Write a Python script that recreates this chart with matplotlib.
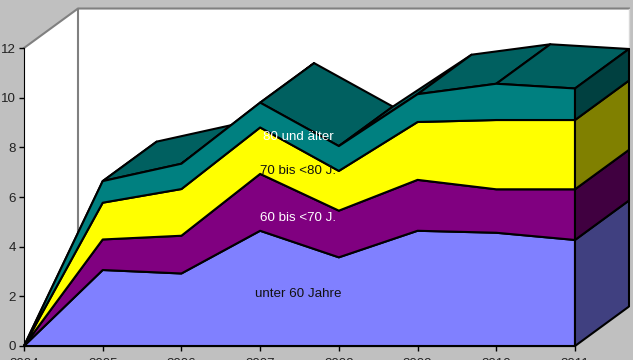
import numpy as np
import matplotlib
matplotlib.use("Agg")
import matplotlib.pyplot as plt
from matplotlib.patches import Polygon

years = [2004, 2005, 2006, 2007, 2008, 2009, 2010, 2011]
unter60 = [0, 3.06, 2.92, 4.64, 3.57, 4.64, 4.56, 4.27]
bis70 = [0, 1.23, 1.52, 2.29, 1.88, 2.05, 1.75, 2.04]
bis80 = [0, 1.48, 1.88, 1.87, 1.60, 2.33, 2.79, 2.79]
ueber80 = [0, 0.87, 1.02, 1.00, 1.00, 1.12, 1.46, 1.27]

series = [unter60, bis70, bis80, ueber80]
front_colors = ["#8080ff", "#800080", "#ffff00", "#008080"]
side_colors = ["#404080", "#400040", "#808000", "#004040"]
top_color = "#006060"

# depth of the fake 3d box in data units
dx = 0.686
dy = 1.59

plt.rcParams["font.family"] = ["Liberation Sans", "DejaVu Sans"]
plt.rcParams["font.size"] = 9.6

fig = plt.figure(figsize=(6.33, 3.6), dpi=100, facecolor="#c0c0c0")
ax = fig.add_axes([24 / 633, 14 / 360, 551 / 633, 298 / 360])
ax.patch.set_visible(False)
ax.set_xlim(2004, 2011)
ax.set_ylim(0, 12)


def poly(points, color, edge="black", lw=1.5, z=2):
    ax.add_patch(Polygon(points, closed=True, facecolor=color, edgecolor=edge,
                         linewidth=lw, joinstyle="round", clip_on=False, zorder=z))


x0, x1 = years[0], years[-1]

# walls
poly([(x0, 0), (x0 + dx, dy), (x0 + dx, 12 + dy), (x0, 12)], "white", "none", 0, 1)
poly([(x0 + dx, dy), (x1 + dx, dy), (x1 + dx, 12 + dy), (x0 + dx, 12 + dy)], "white", "none", 0, 1)
ax.plot([x0, x0 + dx, x1 + dx], [12, 12 + dy, 12 + dy], color="#808080", lw=1.5,
        clip_on=False, zorder=1.5)
ax.plot([x0 + dx, x0 + dx], [dy, 12 + dy], color="#808080", lw=1.5, clip_on=False, zorder=1.5)
ax.plot([x1 + dx, x1 + dx], [dy, 12 + dy], color="#d8d8d8", lw=1, clip_on=False, zorder=1.5)

tops = np.cumsum(np.array(series), axis=0)

# top surface, left to right
top = tops[-1]
for i in range(len(years) - 1):
    poly([(years[i], top[i]), (years[i + 1], top[i + 1]),
          (years[i + 1] + dx, top[i + 1] + dy), (years[i] + dx, top[i] + dy)], top_color, z=3)

# front faces and the right side
lower = np.zeros(len(years))
for upper, front, side in zip(tops, front_colors, side_colors):
    poly(list(zip(years, upper)) + list(zip(years[::-1], lower[::-1])), front, z=4)
    poly([(x1, lower[-1]), (x1, upper[-1]), (x1 + dx, upper[-1] + dy),
          (x1 + dx, lower[-1] + dy)], side, z=4)
    lower = upper

ax.text(2007.48, 2.09, "unter 60 Jahre", color="#111111", ha="center", va="center", zorder=6)
ax.text(2007.48, 5.17, "60 bis <70 J.", color="white", ha="center", va="center", zorder=6)
ax.text(2007.48, 7.03, "70 bis <80 J.", color="#111111", ha="center", va="center", zorder=6)
ax.text(2007.48, 8.42, "80 und älter", color="white", ha="center", va="center", zorder=6)

for s in ["top", "right"]:
    ax.spines[s].set_visible(False)
ax.spines["left"].set_zorder(5)
ax.spines["bottom"].set_zorder(5)
ax.set_xticks(years)
ax.set_yticks(range(0, 13, 2))
ax.tick_params(axis="both", length=3.6, width=1, color="black", labelcolor="#222222")
ax.tick_params(axis="x", pad=5)
ax.tick_params(axis="y", pad=2)

fig.savefig("out.png", dpi=100, facecolor=fig.get_facecolor())
